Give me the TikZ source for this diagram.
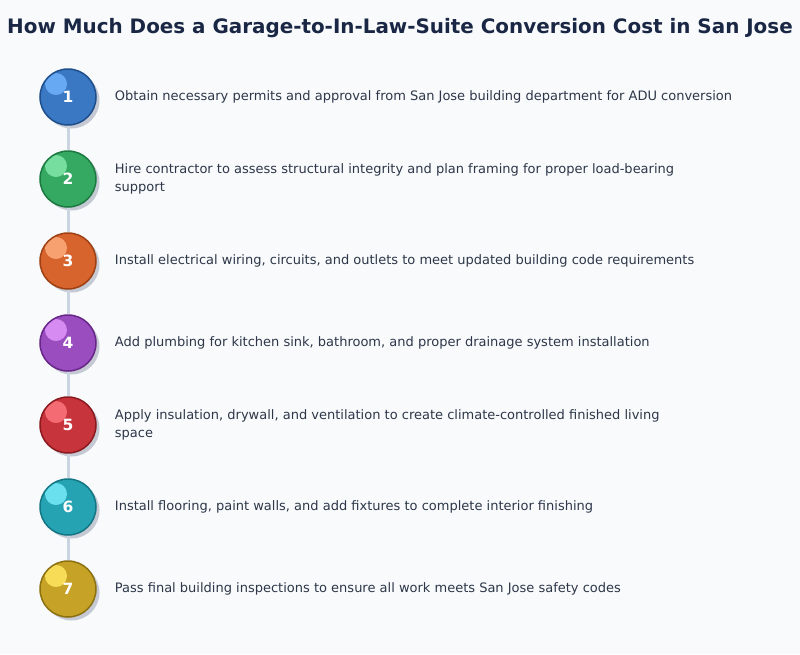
\documentclass[tikz,border=0pt]{standalone}
\usepackage{fontspec}
\setmainfont{DejaVu Sans}
\usetikzlibrary{positioning,shadows}
% page and text colours
\definecolor{pagebg}{HTML}{F8FAFC}
\definecolor{titlec}{HTML}{1A2744}
\definecolor{textc}{HTML}{2D3748}
\definecolor{linkc}{HTML}{CBD5E1}
\definecolor{shadowc}{HTML}{C4C9D3}
% ball colours: fill (c), border (d), highlight (h)
\definecolor{c1}{HTML}{3A78C3}\definecolor{d1}{HTML}{1E4E8C}\definecolor{h1}{HTML}{68A9F4}
\definecolor{c2}{HTML}{35A862}\definecolor{d2}{HTML}{1C7A40}\definecolor{h2}{HTML}{76DE9E}
\definecolor{c3}{HTML}{D7632D}\definecolor{d3}{HTML}{9E4014}\definecolor{h3}{HTML}{F7A171}
\definecolor{c4}{HTML}{9A4DBE}\definecolor{d4}{HTML}{682689}\definecolor{h4}{HTML}{D68BF3}
\definecolor{c5}{HTML}{C8343C}\definecolor{d5}{HTML}{8B1A1F}\definecolor{h5}{HTML}{F56B73}
\definecolor{c6}{HTML}{26A3B3}\definecolor{d6}{HTML}{137683}\definecolor{h6}{HTML}{6AE0EE}
\definecolor{c7}{HTML}{C6A327}\definecolor{d7}{HTML}{8C7110}\definecolor{h7}{HTML}{F6DC57}
\begin{document}
\begin{tikzpicture}[x=1pt,y=-1pt,
    stepball/.style={circle, minimum size=56pt, inner sep=0pt, line width=1.5pt,
      fill=c#1, draw=d#1, text=white, font=\fontsize{15.5}{18}\selectfont\bfseries,
      drop shadow={shadow xshift=3.5pt, shadow yshift=-3.5pt, fill=shadowc, opacity=1},
      path picture={\fill[h#1] ([xshift=-12pt,yshift=13pt]path picture bounding box.center) circle (11pt);}},
    desc/.style={anchor=west, inner sep=0pt, align=left, text=textc,
      font=\fontsize{13}{18}\selectfont},
    link/.style={draw=linkc, line width=3pt}]
    \useasboundingbox[fill=pagebg] (0,0) rectangle (800,654);
    \node[text=titlec, font=\fontsize{19.9}{24}\selectfont\bfseries] (title) at (400,28)
        {How Much Does a Garage-to-In-Law-Suite Conversion Cost in San Jose};
    % Steps
    \node[stepball=1] (s1) at (68,97) {1};
    \node[stepball=2] (s2) at (68,179) {2};
    \node[stepball=3] (s3) at (68,261) {3};
    \node[stepball=4] (s4) at (68,343) {4};
    \node[stepball=5] (s5) at (68,425) {5};
    \node[stepball=6] (s6) at (68,507) {6};
    \node[stepball=7] (s7) at (68,589) {7};
    % Links between steps
    \draw[link] (s1) -- (s2);
    \draw[link] (s2) -- (s3);
    \draw[link] (s3) -- (s4);
    \draw[link] (s4) -- (s5);
    \draw[link] (s5) -- (s6);
    \draw[link] (s6) -- (s7);
    % Descriptions
    \node[desc, right=18pt of s1] (t1) {Obtain necessary permits and approval from San Jose building department for ADU conversion};
    \node[desc, right=18pt of s2] (t2) {Hire contractor to assess structural integrity and plan framing for proper load-bearing\\support};
    \node[desc, right=18pt of s3] (t3) {Install electrical wiring, circuits, and outlets to meet updated building code requirements};
    \node[desc, right=18pt of s4] (t4) {Add plumbing for kitchen sink, bathroom, and proper drainage system installation};
    \node[desc, right=18pt of s5] (t5) {Apply insulation, drywall, and ventilation to create climate-controlled finished living\\space};
    \node[desc, right=18pt of s6] (t6) {Install flooring, paint walls, and add fixtures to complete interior finishing};
    \node[desc, right=18pt of s7] (t7) {Pass final building inspections to ensure all work meets San Jose safety codes};
\end{tikzpicture}
\end{document}
